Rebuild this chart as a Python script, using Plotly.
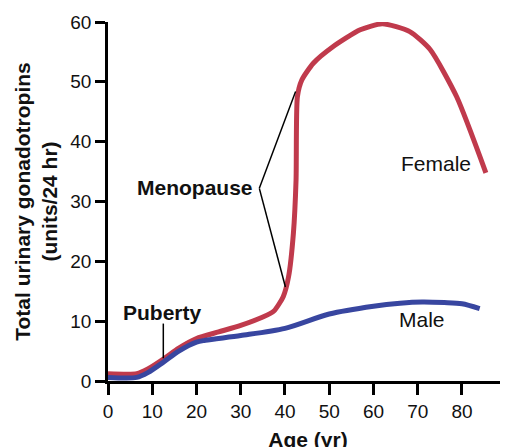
import plotly.graph_objects as go

# Data
female_age = [0, 6.5, 9, 12.6, 16, 20, 25, 30, 35, 37.5, 39.6, 40.8, 41.9, 42.5, 42.8, 43.8, 46.4, 50.9, 57, 62, 68.2, 72.8, 78.8, 85.4]
female_val = [1.2, 1.2, 2.0, 3.7, 5.5, 7.1, 8.2, 9.3, 10.7, 11.7, 14.1, 17.4, 24.7, 33.6, 47.5, 50.3, 53.1, 55.9, 58.7, 59.7, 58.4, 55.4, 47.5, 34.8]

male_age = [0, 6.5, 9, 12.6, 16, 20, 22, 30, 40, 50, 60, 66, 71, 76, 80, 84]
male_val = [0.6, 0.6, 1.4, 3.2, 5.0, 6.5, 6.8, 7.6, 8.8, 11.2, 12.5, 13.0, 13.2, 13.1, 12.9, 12.1]

x_ticks = [0, 10, 20, 30, 40, 50, 60, 70, 80]
y_ticks = [0, 10, 20, 30, 40, 50, 60]

FONT = "Liberation Sans, Arial, Helvetica, sans-serif"
RED = "#c03a4c"
BLUE = "#3846a0"
TXT = 21
TICK = 19

fig = go.Figure()
fig.add_trace(go.Scatter(x=female_age, y=female_val, mode="lines",
                         line=dict(color=RED, width=5, shape="spline", smoothing=0.6),
                         name="Female", showlegend=False, hoverinfo="skip"))
fig.add_trace(go.Scatter(x=male_age, y=male_val, mode="lines",
                         line=dict(color=BLUE, width=5, shape="spline", smoothing=0.8),
                         name="Male", showlegend=False, hoverinfo="skip"))

# Annotation pointer lines
meno_vertex = (34.2, 32.2)
meno_upper = (42.4, 48.4)
meno_lower = (40.1, 15.7)
pub_top = (12.5, 9.6)
pub_bot = (12.5, 3.8)
for (a, b) in [(meno_vertex, meno_upper), (meno_vertex, meno_lower), (pub_top, pub_bot)]:
    fig.add_shape(type="line", xref="x", yref="y", x0=a[0], y0=a[1], x1=b[0], y1=b[1],
                  line=dict(color="black", width=1.5))

def label(x, y, text, bold=False):
    fig.add_annotation(x=x, y=y, xref="x", yref="y", text=f"<b>{text}</b>" if bold else text,
                       showarrow=False, font=dict(family=FONT, size=TXT, color="#111"),
                       xanchor="center", yanchor="middle")

label(74.1, 36.4, "Female")
label(70.9, 10.2, "Male")
label(19.7, 32.4, "Menopause", bold=True)
label(12.4, 11.5, "Puberty", bold=True)

# page body has an 8px default margin, so the margins compensate for it
fig.update_layout(
    width=508, height=447,
    margin=dict(l=100, r=8, t=14, b=74, autoexpand=False),
    paper_bgcolor="white", plot_bgcolor="white",
    font=dict(family=FONT, size=TXT, color="#111"),
    showlegend=False,
)
fig.update_xaxes(range=[0, 90.4], tickvals=x_ticks, showgrid=False, zeroline=False,
                 showline=True, linecolor="black", linewidth=2.5,
                 ticks="outside", ticklen=11, tickwidth=2.5, tickcolor="black",
                 tickfont=dict(family=FONT, size=TICK), automargin=False,
                 title=dict(text="<b>Age (yr)</b>", font=dict(family=FONT, size=TXT), standoff=12))
fig.update_yaxes(range=[0, 60], tickvals=y_ticks, showgrid=False, zeroline=False,
                 showline=True, linecolor="black", linewidth=2.5,
                 ticks="outside", ticklen=10, tickwidth=2.5, tickcolor="black",
                 tickfont=dict(family=FONT, size=TICK), automargin=False,
                 title=dict(text="<b>Total urinary gonadotropins<br>(units/24 hr)</b>",
                            font=dict(family=FONT, size=TXT), standoff=7))

fig.write_html("out.html")
